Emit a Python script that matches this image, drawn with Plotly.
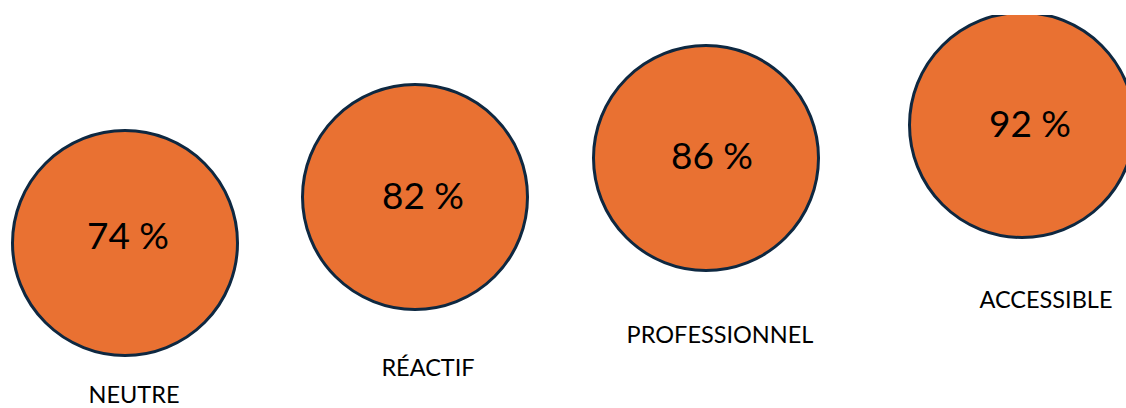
import plotly.graph_objects as go

# Data
categories = ["NEUTRE", "RÉACTIF", "PROFESSIONNEL", "ACCESSIBLE"]
values = [74, 82, 86, 92]

# Layout (pixel-space placement of the infographic bubbles)
circle_x = [125, 415, 706, 1022]
circle_y = [243, 197, 158, 125]
value_x = [128, 423, 712, 1030]
value_y = [240, 200, 160, 128]
label_x = [134, 428, 720, 1046]
label_y = [397, 370, 337, 302]

W, H = 1126, 408
TOP = 15
FILL = "#E97132"
EDGE = "#0E2841"

fig = go.Figure()

fig.add_trace(go.Scatter(
    x=circle_x, y=circle_y, mode="markers",
    marker=dict(size=225, color=FILL, line=dict(color=EDGE, width=3)),
    hoverinfo="skip", cliponaxis=True,
))

fig.add_trace(go.Scatter(
    x=value_x, y=value_y, mode="text",
    text=[f"{v} %" for v in values],
    textposition="middle center",
    textfont=dict(family="Lato, Open Sans, sans-serif", size=37, color="#000000"),
    hoverinfo="skip", cliponaxis=False,
))

fig.add_trace(go.Scatter(
    x=label_x, y=label_y, mode="text",
    text=categories,
    textposition="middle center",
    textfont=dict(family="Lato, Open Sans, sans-serif", size=23.5, color="#000000"),
    hoverinfo="skip", cliponaxis=False,
))

fig.update_layout(
    width=W, height=H,
    margin=dict(l=0, r=0, t=TOP, b=0),
    paper_bgcolor="white", plot_bgcolor="white",
    showlegend=False,
    xaxis=dict(range=[0, W], visible=False, fixedrange=True),
    yaxis=dict(range=[H, TOP], visible=False, fixedrange=True),
)

fig.write_html(
    "out.html",
    config={"displayModeBar": False},
    post_script="document.body.style.margin='0';document.body.style.overflow='hidden';",
)
